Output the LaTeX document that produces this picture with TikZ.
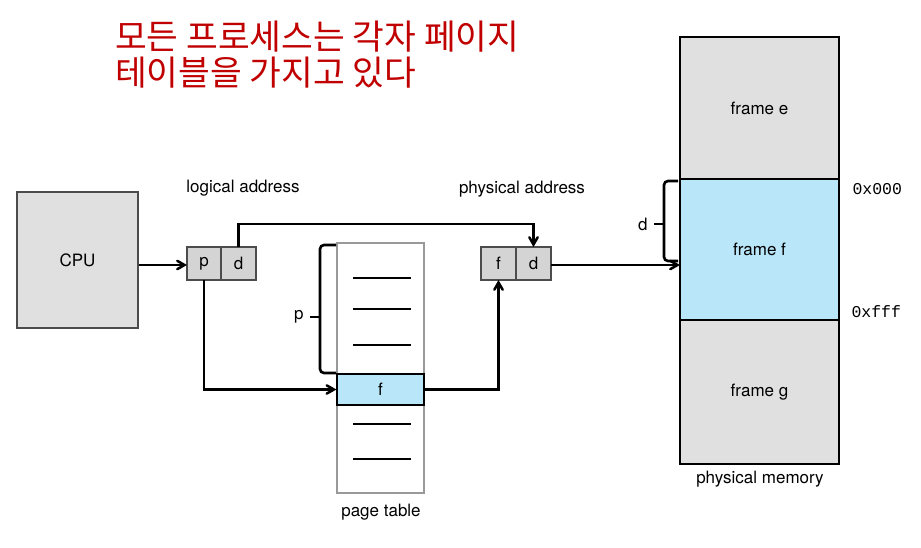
\documentclass[tikz,border=0pt]{standalone}
\usepackage{fontspec}
\setmainfont{TeX Gyre Heros}
\setmonofont{Liberation Mono}
\newfontfamily\krfont{Noto Sans CJK KR}
\usepackage{tikz}
\usetikzlibrary{arrows,positioning}
\definecolor{boxgray}{HTML}{E0E0E0}
\definecolor{cellgray}{HTML}{D4D4D4}
\definecolor{pageblue}{HTML}{BAE6F9}
\definecolor{titlered}{HTML}{C00000}

\begin{document}
\begin{tikzpicture}[x=1pt,y=-1pt,>=angle 60,
  font=\fontsize{17}{20}\selectfont,
  cell/.style={rectangle,draw=black!70,line width=1.2pt,fill=cellgray,inner sep=0pt,outer sep=0pt,minimum width=35pt,minimum height=33pt},
  frame/.style={rectangle,draw=black,line width=2pt,fill=boxgray,inner sep=0pt,outer sep=0pt,minimum width=159pt},
  link/.style={->,line width=2.5pt},
  bracket/.style={line width=2.6pt,rounded corners=4pt}]

  \useasboundingbox (0,0) rectangle (921,548);

  \node[text=titlered,anchor=north west,align=left,inner sep=0pt,
    font=\krfont\fontsize{34.5}{36}\selectfont] (title) at (115,21) {모든 프로세스는 각자 페이지\\테이블을 가지고 있다};

  \node[rectangle,draw=black!70,line width=1.2pt,fill=boxgray,minimum width=121pt,minimum height=136pt] (cpu) at (77.5,260) {CPU};

  \node[cell,minimum width=34pt] (lp) at (204,263.5) {p};
  \node[cell,right=0pt of lp] (ld) {d};
  \node (logical) at (243,188) {logical address};

  \node[cell] (pf) at (498.5,263.5) {f};
  \node[cell,right=0pt of pf] (pd) {d};
  \node (physical) at (522,189) {physical address};

  \node[rectangle,draw=black!40,line width=1.4pt,fill=white,minimum width=87pt,minimum height=250pt] (table) at (380.5,368) {};
  \node[rectangle,draw=black,line width=1.2pt,fill=pageblue,inner sep=0pt,minimum width=87pt,minimum height=31pt] (entry) at (380.5,389.5) {f};
  \foreach \y in {278,309,345,424,459}
    \draw[line width=1.6pt] (353,\y) -- (411,\y);
  \node (pagetable) at (381,512) {page table};

  \node[frame,minimum height=142pt] (framee) at (759.5,108) {frame e};
  \node[frame,fill=pageblue,minimum height=141pt] (framef) at (759.5,249.5) {frame f};
  \node[frame,minimum height=144pt] (frameg) at (759.5,392) {frame g};
  \node (memory) at (760,479) {physical memory};
  \node[font=\ttfamily\fontsize{16.5}{20}\selectfont,anchor=west] (low) at (849,189) {0x000};
  \node[font=\ttfamily\fontsize{16.5}{20}\selectfont,anchor=west] (high) at (848,312) {0xfff};

  \draw[link] (cpu.east |- 0,265) -- (lp.west |- 0,265);
  \draw[link] (ld.north) -- (ld.north |- 0,224) -| (pd.north);
  \draw[link] (lp.south) |- (entry.west);
  \draw[link] (entry.east) -| (pf.south);
  \draw[link] (pd.east |- 0,265) -- (framef.west |- 0,265);

  % braces
  \draw[bracket] (336,245) -- (320,245) -- (320,373) -- (336,373);
  \draw[line width=2.2pt] (320,317) -- (310,317) node[left=2pt] (plabel) {p};
  \draw[bracket] (678,181) -- (664,181) -- (664,261) -- (678,261);
  \draw[line width=2.2pt] (664,224) -- (654,224) node[left=2pt] (dlabel) {d};
\end{tikzpicture}
\end{document}
